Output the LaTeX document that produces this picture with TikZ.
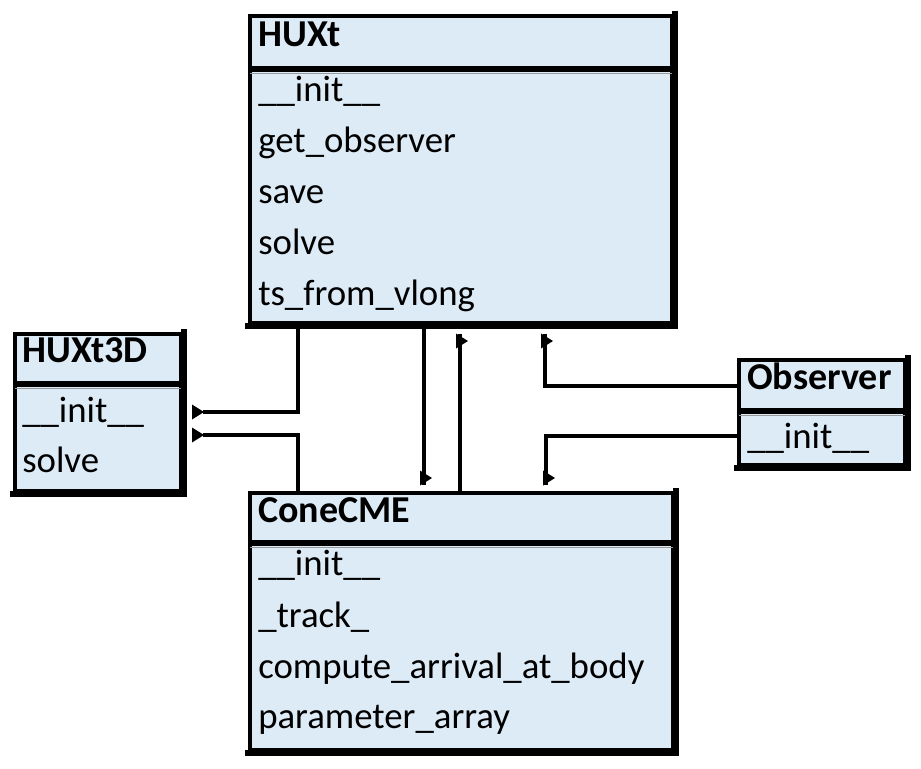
\documentclass[tikz,border=0pt]{standalone}
\usepackage{fontspec}
\setmainfont{Carlito}
\usetikzlibrary{fit,calc}
\definecolor{boxfill}{RGB}{221,235,247}
\begin{document}
\begin{tikzpicture}[x=0.75pt,y=-0.75pt,
  classbox/.style={inner sep=0pt, fill=boxfill, draw=black, line width=3pt},
  ttl/.style={anchor=base west, inner sep=0pt, font=\fontsize{28.5}{31}\selectfont\bfseries},
  mth/.style={anchor=base west, inner sep=0pt, font=\fontsize{27.6}{30}\selectfont},
  conn/.style={draw=black, line width=2.4pt},
  thinsep/.style={draw=black!40, line width=0.9pt},
  tipflag/.pic={\fill[black] (0,-7.5) -- (12,0) -- (0,7.5) -- cycle;}
]
\useasboundingbox (0,0) rectangle (921,768);

% ---------- boxes ----------
\node[classbox, fit={(250,16) (672,323)}] (huxt) {};
\node[classbox, fit={(15,334) (181,491)}] (hthreed) {};
\node[classbox, fit={(739,360) (905,465)}] (obs) {};
\node[classbox, fit={(250,493) (673,750)}] (cone) {};

% heavier right/bottom edges
\foreach \n in {huxt,hthreed,obs,cone}{
  \draw[line width=3.8pt,line cap=rect] ($(\n.north east)+(1,0)$) -- ($(\n.south east)+(1,1)$) -- ($(\n.south west)+(0,1)$);
}

% header separators (thick black band + thin grey line)
\fill[black] (250,66) rectangle (672,71.5);
\draw[thinsep] (250,73.5) -- (672,73.5);
\fill[black] (15,381) rectangle (181,386.5);
\draw[thinsep] (15,388.5) -- (181,388.5);
\fill[black] (739,408) rectangle (905,413.5);
\draw[thinsep] (739,415.5) -- (905,415.5);
\fill[black] (250,540) rectangle (673,545.5);
\draw[thinsep] (250,547.5) -- (673,547.5);

% ---------- texts ----------
\node[ttl] (huxtT) at (258,46) {HUXt};
\node[mth] (huxt1) at (258,101) {\_\_init\_\_};
\node[mth] (huxt2) at (258,152) {get\_observer};
\node[mth] (huxt3) at (258,203) {save};
\node[mth] (huxt4) at (258,254) {solve};
\node[mth] (huxt5) at (258,305) {ts\_from\_vlong};

\node[ttl] (hthreedT) at (22,362) {HUXt3D};
\node[mth] (hthreed1) at (22,422) {\_\_init\_\_};
\node[mth] (hthreed2) at (22,472) {solve};

\node[ttl] (obsT) at (747,389) {Observer};
\node[mth] (obs1) at (747,448) {\_\_init\_\_};

\node[ttl] (coneT) at (258,522) {ConeCME};
\node[mth] (cone1) at (258,575) {\_\_init\_\_};
\node[mth] (cone2) at (258,627) {\_track\_};
\node[mth] (cone3) at (258,678) {compute\_arrival\_at\_body};
\node[mth] (cone4) at (258,728) {parameter\_array};

% ---------- connectors ----------
% HUXt -> HUXt3D
\draw[conn] ($(huxt.south west)+(50,0)$) |- ($(hthreed.north east)+(20,80)$);
\pic at ($(hthreed.north east)+(9,80)$) {tipflag};
% ConeCME -> HUXt3D
\draw[conn] ($(cone.north west)+(50,0)$) |- ($(hthreed.north east)+(20,103)$);
\pic at ($(hthreed.north east)+(9,103)$) {tipflag};
% HUXt -> ConeCME
\draw[conn] ($(huxt.south west)+(176,0)$) -- ($(cone.north west)+(176,-6)$);
\pic at ($(cone.north west)+(172,-13)$) {tipflag};
% ConeCME -> HUXt
\draw[conn] ($(cone.north west)+(212,0)$) -- ($(huxt.south west)+(212,9)$);
\pic at ($(huxt.south west)+(208,16)$) {tipflag};
% Observer -> HUXt
\draw[conn] ($(obs.north west)+(0,28)$) -| ($(huxt.south west)+(297,9)$);
\pic at ($(huxt.south west)+(293,16)$) {tipflag};
% Observer -> ConeCME
\draw[conn] ($(obs.north west)+(0,78)$) -| ($(cone.north west)+(298,-6)$);
\pic at ($(cone.north west)+(295,-13)$) {tipflag};
\end{tikzpicture}
\end{document}
